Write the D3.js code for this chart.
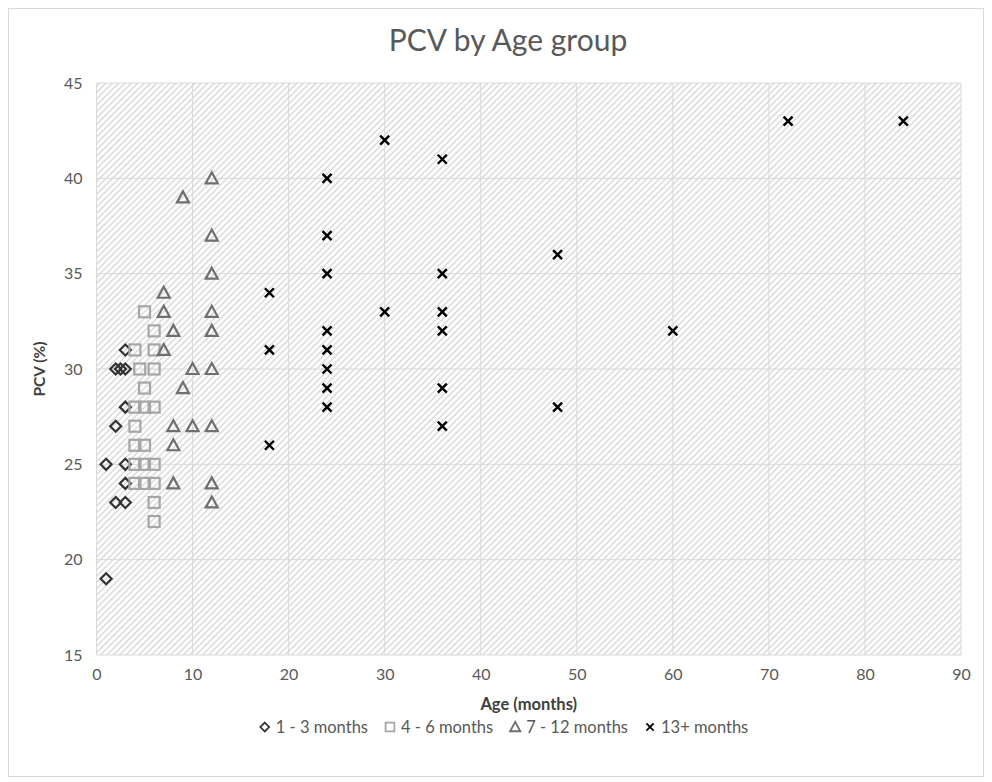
<!DOCTYPE html>
<html>
<head>
<meta charset="utf-8">
<script src="https://cdn.jsdelivr.net/npm/d3@7"></script>
<style>
  body { margin: 0; background: #fff; }
  text { font-family: Lato, "Open Sans", sans-serif; }
</style>
</head>
<body>
<div class="chart"></div>
<script>
// data: [age in months, PCV %]
const group1 = [[1,19],[1,25],[2,23],[3,23],[3,24],[3,25],[2,27],[3,28],[2,30],[2.5,30],[3,30],[3,31]];
const group2 = [[5,33],[6,32],[4,31],[6,31],[4.5,30],[6,30],[5,29],[4,28],[5,28],[6,28],[4,27],[4,26],[5,26],
                [4,25],[5,25],[6,25],[4,24],[5,24],[6,24],[6,23],[6,22]];
const group3 = [[12,40],[9,39],[12,37],[12,35],[7,34],[7,33],[12,33],[8,32],[12,32],[7,31],[10,30],[12,30],
                [9,29],[8,27],[10,27],[12,27],[8,26],[8,24],[12,24],[12,23]];
const group4 = [[72,43],[84,43],[30,42],[36,41],[24,40],[24,37],[48,36],[24,35],[36,35],[18,34],[30,33],[36,33],
                [24,32],[36,32],[60,32],[18,31],[24,31],[24,30],[24,29],[36,29],[24,28],[48,28],[36,27],[18,26]];
const groupNames = ["1 - 3 months", "4 - 6 months", "7 - 12 months", "13+ months"];
const xTicks = [0,10,20,30,40,50,60,70,80,90];
const yTicks = [15,20,25,30,35,40,45];

const W = 992, H = 782;
const margin = {top: 83, right: 31, bottom: 127, left: 96.5};
const w = W - margin.left - margin.right, h = H - margin.top - margin.bottom;

const root = d3.select(".chart").append("svg").attr("width", W).attr("height", H);

// outer frame
root.append("rect").attr("x", 8.5).attr("y", 8.5).attr("width", W - 17).attr("height", H - 14)
    .attr("fill", "#fff").attr("stroke", "#d9d9d9");

// hatch pattern
const pat = root.append("defs").append("pattern")
    .attr("id", "hatch").attr("patternUnits", "userSpaceOnUse")
    .attr("width", 4.5).attr("height", 4.5).attr("patternTransform", "rotate(-45)");
pat.append("rect").attr("width", 4.5).attr("height", 4.5).attr("fill", "#fff");
pat.append("line").attr("x1", 0).attr("y1", 2.25).attr("x2", 4.5).attr("y2", 2.25)
    .attr("stroke", "#d3d3d3").attr("stroke-width", 1.3);

root.append("text").attr("x", W / 2 + 12).attr("y", 51).attr("text-anchor", "middle")
    .attr("font-size", 30).attr("fill", "#595959").text("PCV by Age group");

const svg = root.append("g").attr("transform", `translate(${margin.left},${margin.top})`);

const x = d3.scaleLinear().domain([0, 90]).range([0, w]);
const y = d3.scaleLinear().domain([15, 45]).range([h, 0]);

svg.append("rect").attr("width", w).attr("height", h).attr("fill", "url(#hatch)");

// gridlines
svg.append("g").selectAll("line").data(xTicks).join("line")
    .attr("x1", d => x(d)).attr("x2", d => x(d)).attr("y1", 0).attr("y2", h)
    .attr("stroke", "#d9d9d9").attr("stroke-width", 1);
svg.append("g").selectAll("line").data(yTicks).join("line")
    .attr("x1", 0).attr("x2", w).attr("y1", d => y(d)).attr("y2", d => y(d))
    .attr("stroke", "#d9d9d9").attr("stroke-width", 1);

// axes
const xAxis = svg.append("g").attr("transform", `translate(0,${h})`)
    .call(d3.axisBottom(x).tickValues(xTicks).tickSize(0).tickPadding(14));
const yAxis = svg.append("g")
    .call(d3.axisLeft(y).tickValues(yTicks).tickSize(0).tickPadding(14));
[xAxis, yAxis].forEach(a => {
    a.select(".domain").remove();
    a.selectAll("text").attr("font-size", 16).attr("fill", "#595959")
        .attr("font-family", "Lato, 'Open Sans', sans-serif");
});

svg.append("text").attr("x", w / 2).attr("y", h + 55).attr("text-anchor", "middle")
    .attr("font-size", 16.5).attr("font-weight", "bold").attr("fill", "#404040").text("Age (months)");
svg.append("text").attr("transform", `translate(${-52},${h / 2}) rotate(-90)`)
    .attr("text-anchor", "middle").attr("font-size", 15.5).attr("font-weight", "bold")
    .attr("fill", "#404040").text("PCV (%)");

// markers
const colors = ["#333333", "#a6a6a6", "#6f6f6f", "#000000"];
function marker(sel, i) {
    if (i === 0) {
        sel.append("path").attr("d", "M0,-5.5L5.5,0L0,5.5L-5.5,0Z")
            .attr("fill", "none").attr("stroke", colors[0]).attr("stroke-width", 2.2);
    } else if (i === 1) {
        sel.append("rect").attr("x", -5.5).attr("y", -5.5).attr("width", 11).attr("height", 11)
            .attr("fill", "none").attr("stroke", colors[1]).attr("stroke-width", 2.2);
    } else if (i === 2) {
        sel.append("path").attr("d", "M0,-6L6,5L-6,5Z")
            .attr("fill", "none").attr("stroke", colors[2]).attr("stroke-width", 2.2);
    } else {
        sel.append("path").attr("d", "M-4.5,-4.5L4.5,4.5M-4.5,4.5L4.5,-4.5")
            .attr("fill", "none").attr("stroke", colors[3]).attr("stroke-width", 2.4);
    }
}

[group1, group2, group3, group4].forEach((data, i) => {
    svg.append("g").selectAll("g").data(data).join("g")
        .attr("transform", d => `translate(${x(d[0])},${y(d[1])})`)
        .each(function() { marker(d3.select(this), i); });
});

// legend, laid out left to right from measured text widths
const lg = root.append("g").attr("transform", "translate(0,727)");
const items = groupNames.map((name, i) => {
    const g = lg.append("g");
    const m = g.append("g").attr("transform", i === 2 ? "scale(0.85)" : "scale(0.8)");
    marker(m, i);
    const t = g.append("text").attr("x", 11).attr("y", 5.5).attr("font-size", 16.5)
        .attr("fill", "#595959").text(name);
    return {g, width: 11 + t.node().getComputedTextLength()};
});
const gap = 22;
const total = d3.sum(items, d => d.width) + gap * (items.length - 1) + 5;
let cx = W / 2 + 8 - total / 2 + 5;
items.forEach(it => {
    it.g.attr("transform", `translate(${cx},0)`);
    cx += it.width + gap;
});
</script>
</body>
</html>
